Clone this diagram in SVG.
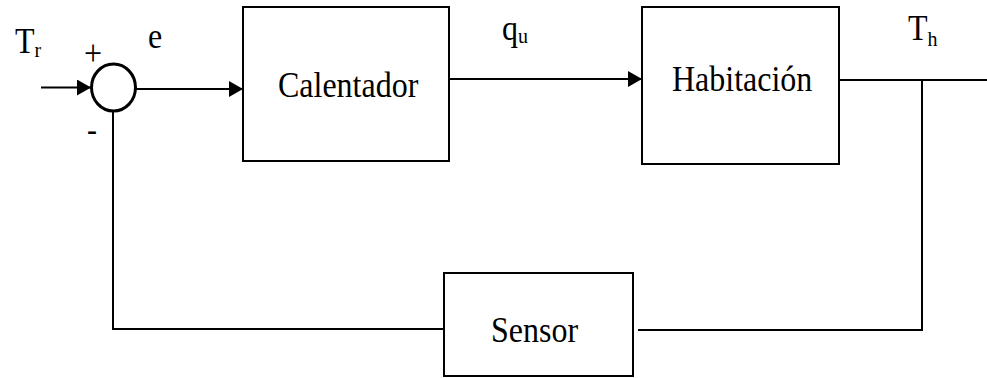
<svg xmlns="http://www.w3.org/2000/svg" width="987" height="378" viewBox="0 0 987 378">
  <style>
    .blk { fill: #fff; stroke: #000; stroke-width: 2; }
    .wire { fill: none; stroke: #000; stroke-width: 2; }
    text { font-family: "Liberation Serif", "Times New Roman", serif; fill: #000; }
    .lbl { font-size: 32px; }
    .sub { font-size: 20px; }
    .sign { font-size: 30px; }
  </style>
  <defs>
    <marker id="arrow" viewBox="0 0 14 16" refX="14" refY="8" markerWidth="14" markerHeight="16" markerUnits="userSpaceOnUse" orient="auto">
      <path d="M0,0 L14,8 L0,16 Z" fill="#000"/>
    </marker>
  </defs>

  <!-- signal wires -->
  <g id="connectors">
    <line class="wire" x1="41" y1="87.5" x2="91" y2="87.5" marker-end="url(#arrow)"/>
    <line class="wire" x1="134" y1="89" x2="243" y2="89" marker-end="url(#arrow)"/>
    <line class="wire" x1="449" y1="79" x2="642" y2="79" marker-end="url(#arrow)"/>
    <line class="wire" x1="839" y1="80" x2="987" y2="80"/>
    <polyline class="wire" points="922,80 922,330 638,330"/>
    <polyline class="wire" points="444,329 113,329 113,111"/>
  </g>

  <!-- summing junction -->
  <g id="sum">
    <ellipse cx="113.5" cy="87.5" rx="22" ry="23.5" fill="#fff" stroke="#000" stroke-width="3"/>
    <text class="lbl" transform="translate(84,65) scale(1,1.1)">+</text>
    <text class="sign" transform="translate(87,141) scale(1,1.1)">-</text>
  </g>

  <g id="calentador">
    <rect class="blk" x="243" y="7" width="206" height="154"/>
    <text class="lbl" transform="translate(278,97) scale(1,1.1)">Calentador</text>
  </g>

  <g id="habitacion">
    <rect class="blk" x="642" y="7" width="197" height="157"/>
    <text class="lbl" transform="translate(672,91) scale(1,1.1)">Habitación</text>
  </g>

  <g id="sensor">
    <rect class="blk" x="444" y="273" width="189" height="103"/>
    <text class="lbl" transform="translate(491,342) scale(1,1.1)">Sensor</text>
  </g>

  <!-- signal labels -->
  <g id="labels">
    <text class="lbl" transform="translate(15,53) scale(1,1.1)">T<tspan class="sub" dy="4">r</tspan></text>
    <text class="lbl" transform="translate(148,48) scale(1,1.1)">e</text>
    <text class="lbl" transform="translate(502,40) scale(1,1.1)">q<tspan class="sub" dy="3">u</tspan></text>
    <text class="lbl" transform="translate(908,40) scale(1,1.1)">T<tspan class="sub" dy="5">h</tspan></text>
  </g>
</svg>
